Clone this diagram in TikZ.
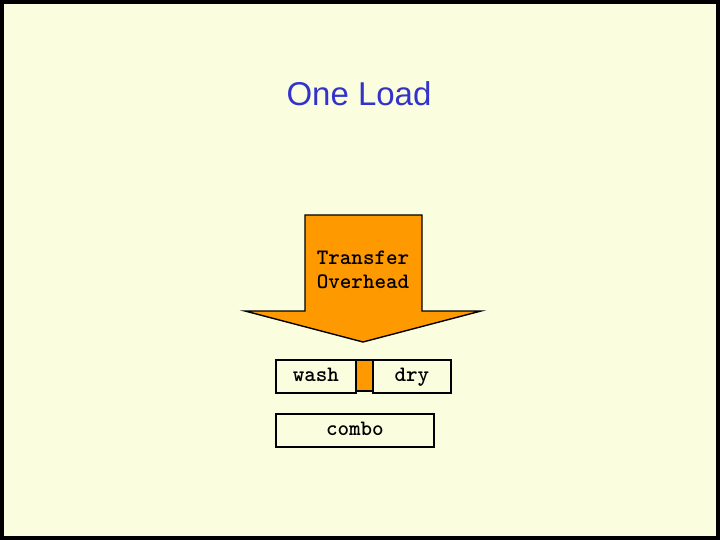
\documentclass[tikz,border=0pt]{standalone}
\usepackage{fontspec}
\setmainfont{Liberation Sans}
\newfontfamily\boxmono{lmmonolt10-bold.otf}
\definecolor{bg}{RGB}{250,254,222}
\definecolor{arroworange}{RGB}{255,153,0}
\definecolor{titleblue}{RGB}{51,51,204}
\begin{document}
\begin{tikzpicture}[x=1pt,y=-1pt,
  boxstyle/.style={draw=black,line width=1.8pt,fill=bg,inner sep=0pt,anchor=north west},
  monotext/.style={font=\boxmono\fontsize{22}{24}\selectfont,text=black,anchor=base,inner sep=0pt},
]
\useasboundingbox (0,0) rectangle (720,540);
\fill[black] (0,0) rectangle (720,540);
\fill[bg] (4,4) rectangle (716,536);
\node[font=\fontsize{33}{38}\selectfont,text=titleblue,anchor=base,inner sep=0pt] (title) at (359,106) {One Load};
% arrow
\draw[fill=arroworange,line width=1.4pt,line join=miter]
  (305,215) -- (422,215) -- (422,311) -- (481,311) -- (363,342) -- (245,311) -- (305,311) -- cycle;
\node[monotext] (transfer) at (363,264) {Transfer};
\node[monotext] (overhead) at (363,288) {Overhead};
% boxes
\node[boxstyle,minimum width=80pt,minimum height=33pt] (wash) at (275,359) {};
\node[monotext] (washtext) at (wash.center |- 0,381) {wash};
\node[draw=black,line width=1.8pt,fill=arroworange,inner sep=0pt,anchor=north west,minimum width=17pt,minimum height=31pt] (gap) at (355,359) {};
\node[boxstyle,minimum width=78pt,minimum height=33pt] (dry) at (372,359) {};
\node[monotext] (drytext) at (dry.center |- 0,381) {dry};
\node[boxstyle,minimum width=158pt,minimum height=33pt] (combo) at (275,413) {};
\node[monotext] (combotext) at (combo.center |- 0,435) {combo};
\end{tikzpicture}
\end{document}
